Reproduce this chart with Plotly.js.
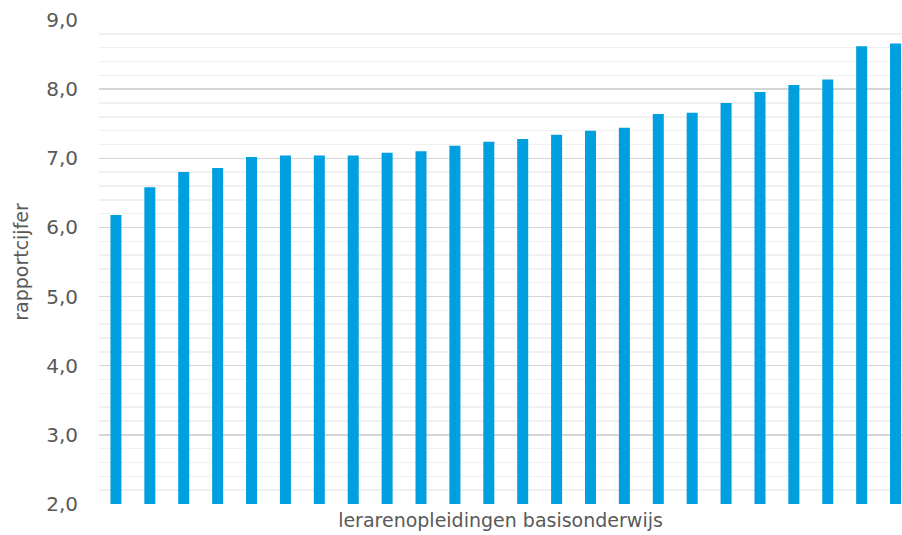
<!DOCTYPE html>
<html>
<head>
<meta charset="utf-8">
<script src="https://cdn.plot.ly/plotly-3.0.1.min.js"></script>
<style>html,body{margin:0;padding:0;background:#fff;}#chart{width:902px;height:535px;}</style>
</head>
<body>
<div id="chart"></div>
<script>
const categories = ["1","2","3","4","5","6","7","8","9","10","11","12","13","14","15","16","17","18","19","20","21","22","23","24"];
const values = [6.18, 6.58, 6.80, 6.86, 7.02, 7.04, 7.04, 7.04, 7.08, 7.10, 7.18, 7.24, 7.28, 7.34, 7.40, 7.44, 7.64, 7.66, 7.80, 7.96, 8.06, 8.14, 8.62, 8.66];
const yTitle = "rapportcijfer";
const xTitle = "lerarenopleidingen basisonderwijs";

const font = "Tahoma, 'DejaVu Sans', sans-serif";
Plotly.newPlot('chart', [{
  type: 'bar',
  x: categories.map((c, i) => i),
  y: values,
  marker: {color: '#009fe0'},
  hoverinfo: 'none'
}], {
  width: 902, height: 535,
  margin: {l: 99, r: 0, t: 20, b: 31, pad: 0},
  separators: ',.',
  bargap: 0.675,
  paper_bgcolor: '#fff', plot_bgcolor: '#fff',
  font: {family: font, color: '#595959'},
  xaxis: {
    range: [-0.5, 23.19],
    showticklabels: false, showgrid: false, zeroline: false,
    showline: false, ticks: '',
    title: {text: xTitle, font: {size: 19, color: '#595959', family: font}, standoff: 9}
  },
  yaxis: {
    range: [2, 9], dtick: 1, tick0: 2, tickformat: '.1f',
    showgrid: true, gridcolor: '#d6d6d6', gridwidth: 1.5,
    minor: {dtick: 0.2, tick0: 2, showgrid: true, gridcolor: '#f0f0f0', gridwidth: 1.5},
    zeroline: false, showline: false, ticks: '',
    ticklabelstandoff: 20,
    tickfont: {size: 20, color: '#595959', family: font},
    title: {text: yTitle, font: {size: 19, color: '#595959', family: font}, standoff: 12}
  },
  showlegend: false
}, {displayModeBar: false, staticPlot: true});
</script>
</body>
</html>
